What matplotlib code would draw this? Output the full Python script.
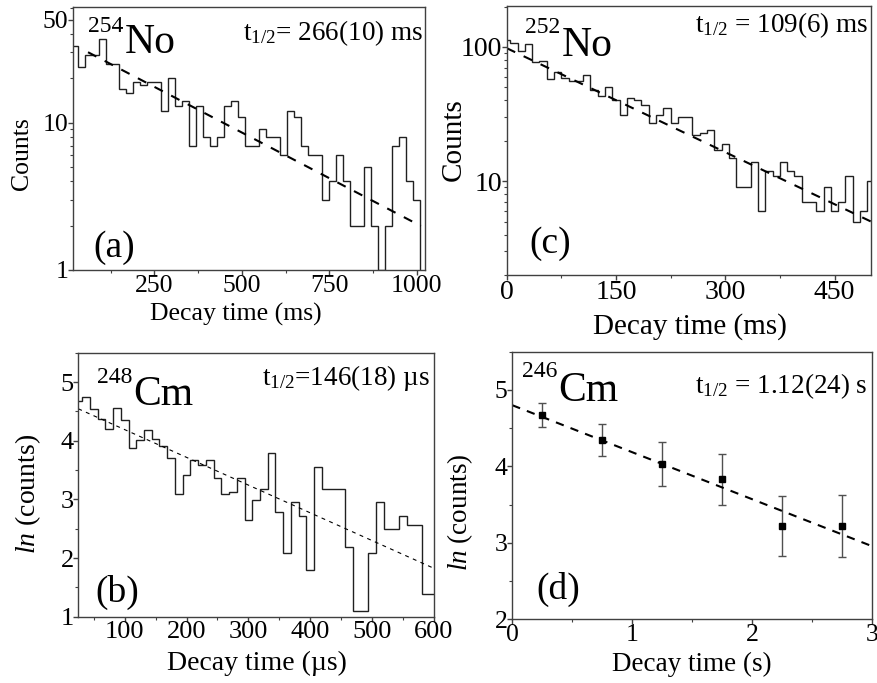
import numpy as np
import matplotlib
matplotlib.use("Agg")
import matplotlib.pyplot as plt
from matplotlib.ticker import (AutoMinorLocator, FixedLocator, FixedFormatter,
                               NullFormatter, MultipleLocator, LogLocator)

plt.rcParams["font.family"] = ["Liberation Serif", "DejaVu Serif"]
plt.rcParams["mathtext.fontset"] = "custom"
plt.rcParams["mathtext.rm"] = "Liberation Serif"
plt.rcParams["mathtext.it"] = "Liberation Serif:italic"

FRAME = "#404040"
HIST = "#202020"

# (a) 254No, 20 ms bins starting at 10 ms
no254_bin_start = 10
no254_bin_width = 20
no254_counts = [33, 24, 29, 29, 37, 25, 25, 17, 16, 19,
                18, 19, 19, 12, 20, 13, 14, 7, 13, 8,
                7, 8, 13, 14, 11, 7, 7, 9, 8, 8,
                6, 12, 11, 7, 6, 6, 3, 4, 6, 4,
                2, 2, 5, 2, 1, 2, 7, 8, 4, 3]
no254_fit_amp = 35.7      # counts at t = 0
no254_fit_half = 243.0    # ms (as drawn)
no254_fit_range = (60, 1012)

# (c) 252No, 10 ms bins centred on multiples of 10 ms
no252_bin_start = -5
no252_bin_width = 10
no252_counts = [113, 107, 94, 106, 77, 79, 58, 65, 59, 56,
                56, 62, 48, 43, 50, 40, 31, 42, 40, 37,
                27, 31, 35, 27, 30, 30, 22, 23, 24, 17,
                19, 15, 9, 9, 14, 6, 12, 11, 14, 12,
                11, 7, 7, 6, 9, 6, 7, 11, 5, 6, 10]
no252_fit_amp = 98.0
no252_fit_half = 116.5
no252_fit_range = (0, 500)

# (b) 248Cm, ln(counts), 12.5 us bins
cm248_bin_start = 18.75
cm248_bin_width = 12.5
cm248_lncounts = [4.67, 4.75, 4.54, 4.37, 4.20, 4.56, 4.36, 3.88, 4.02, 4.19,
                  4.03, 3.91, 3.70, 3.09, 3.41, 3.67, 3.59, 3.67, 3.36, 3.09,
                  3.13, 3.36, 2.64, 2.99, 3.17, 3.79, 2.78, 2.08, 2.95, 2.71,
                  1.80, 3.56, 3.17, 3.17, 3.17, 2.19, 1.10, 1.10, 2.08, 2.95,
                  2.49, 2.49, 2.71, 2.56, 2.56, 1.39, 1.39]
cm248_fit_b = 4.662       # ln(counts) at t = 0
cm248_fit_slope = -0.00473
cm248_fit_range = (25, 600)

# (d) 246Cm, points with errors
cm246_t = [0.25, 0.75, 1.25, 1.75, 2.25, 2.75]
cm246_ln = [4.67, 4.35, 4.03, 3.83, 3.22, 3.22]
cm246_err = [0.16, 0.21, 0.29, 0.33, 0.39, 0.41]
cm246_fit_b = 4.80
cm246_fit_slope = -0.615
cm246_fit_range = (0, 3)

W, H = 877, 683
SYM_FS, MASS_FS, HL_FS, TAG_FS = 30, 17, 19.5, 27


def px_rect(left, top, right, bottom):
    return [left / W, 1 - bottom / H, (right - left) / W, (bottom - top) / H]


def style_axes(ax, tick_fs):
    for s in ax.spines.values():
        s.set_color(FRAME)
        s.set_linewidth(1.0)
    ax.tick_params(which="both", direction="out", top=False, right=False,
                   colors=FRAME, labelcolor="black", labelsize=tick_fs, pad=0)
    ax.tick_params(which="major", length=3.3, width=1.0)
    ax.tick_params(which="minor", length=2.0, width=0.8)


def annotate(ax, mass, sym, sym_xy, mass_xy, hl_text, hl_xy, tag, tag_xy):
    ax.text(*sym_xy, sym, transform=ax.transAxes, fontsize=SYM_FS, va="baseline", ha="left")
    ax.text(*mass_xy, mass, transform=ax.transAxes, fontsize=MASS_FS, va="baseline", ha="right")
    ax.text(*hl_xy, hl_text, transform=ax.transAxes, fontsize=HL_FS, va="baseline", ha="right")
    ax.text(*tag_xy, tag, transform=ax.transAxes, fontsize=TAG_FS, va="baseline", ha="left")


def labels(ax, xlabel, xl_xy, ylabel, yl_xy, fs):
    ax.set_xlabel(xlabel, fontsize=fs)
    ax.set_ylabel(ylabel, fontsize=fs)
    ax.xaxis.set_label_coords(*xl_xy)
    ax.yaxis.set_label_coords(*yl_xy)


fig = plt.figure(figsize=(W / 100, H / 100), dpi=100)

# ---- (a)
ax = fig.add_axes(px_rect(73, 7, 425, 270))
style_axes(ax, 18.5)
edges = no254_bin_start + no254_bin_width * np.arange(len(no254_counts) + 1)
ax.stairs(no254_counts, edges, baseline=1, color=HIST, lw=1.0)
t = np.linspace(*no254_fit_range, 200)
ax.plot(t, no254_fit_amp * np.exp(-np.log(2) * t / no254_fit_half),
        color="black", lw=1.5, ls=(0, (4.5, 4.5)))
ax.set_yscale("log")
ax.set_xlim(17, 1024)
ax.set_ylim(1, 61)
ax.yaxis.set_major_locator(FixedLocator([1, 10, 50]))
ax.yaxis.set_major_formatter(FixedFormatter(["1", "10", "50"]))
ax.yaxis.set_minor_locator(LogLocator(base=10, subs=np.arange(2, 10)))
ax.yaxis.set_minor_formatter(NullFormatter())
ax.xaxis.set_major_locator(FixedLocator([250, 500, 750, 1000]))
ax.xaxis.set_minor_locator(FixedLocator([125, 375, 625, 875]))
labels(ax, "Decay time (ms)", (0.463, -0.127), "Counts", (-0.114, 0.443), 18.5)
annotate(ax, "254", "No", (0.148, 0.824), (0.143, 0.906),
         r"t$_{1/2}$= 266(10) ms", (0.995, 0.875), "(a)", (0.058, 0.051))

# ---- (c)
ax = fig.add_axes(px_rect(506.7, 6, 871, 275))
style_axes(ax, 20)
edges = no252_bin_start + no252_bin_width * np.arange(len(no252_counts) + 1)
ax.stairs(no252_counts, edges, baseline=None, color=HIST, lw=1.0)
t = np.linspace(*no252_fit_range, 200)
ax.plot(t, no252_fit_amp * np.exp(-np.log(2) * t / no252_fit_half),
        color="black", lw=1.5, ls=(0, (4.5, 4.5)))
ax.set_yscale("log")
ax.set_xlim(0, 500)
ax.set_ylim(2, 202)
ax.yaxis.set_major_locator(FixedLocator([10, 100]))
ax.yaxis.set_major_formatter(FixedFormatter(["10", "100"]))
ax.yaxis.set_minor_locator(LogLocator(base=10, subs=np.arange(2, 10)))
ax.yaxis.set_minor_formatter(NullFormatter())
ax.xaxis.set_major_locator(MultipleLocator(150))
ax.xaxis.set_minor_locator(AutoMinorLocator(2))
labels(ax, "Decay time (ms)", (0.503, -0.142), "Counts", (-0.109, 0.504), 21)
annotate(ax, "252", "No", (0.151, 0.814), (0.146, 0.899),
         r"t$_{1/2}$ = 109(6) ms", (0.993, 0.904), "(c)", (0.062, 0.081))

# ---- (b)
ax = fig.add_axes(px_rect(78.3, 352.7, 434, 616.7))
style_axes(ax, 19)
edges = cm248_bin_start + cm248_bin_width * np.arange(len(cm248_lncounts) + 1)
ax.stairs(cm248_lncounts, edges, baseline=None, color=HIST, lw=1.0)
t = np.linspace(*cm248_fit_range, 200)
ax.plot(t, cm248_fit_b + cm248_fit_slope * t, color="black", lw=0.8, ls=(0, (3.5, 4)))
ax.set_xlim(25, 600)
ax.set_ylim(1, 5.5)
ax.xaxis.set_major_locator(MultipleLocator(100))
ax.xaxis.set_minor_locator(AutoMinorLocator(2))
ax.yaxis.set_major_locator(MultipleLocator(1))
ax.yaxis.set_minor_locator(AutoMinorLocator(2))
labels(ax, "Decay time (µs)", (0.502, -0.128), r"$\mathit{ln}$ (counts)", (-0.098, 0.466), 20)
annotate(ax, "248", "Cm", (0.155, 0.802), (0.152, 0.884),
         r"t$_{1/2}$=146(18) µs", (0.989, 0.878), "(b)", (0.047, 0.057))

# ---- (d)
ax = fig.add_axes(px_rect(512.3, 351.7, 872.3, 619.3))
style_axes(ax, 18.5)
ax.errorbar(cm246_t, cm246_ln, yerr=cm246_err, fmt="s", color="black", ms=4.5,
            ecolor="#505050", elinewidth=1.0, capsize=3, capthick=1.0)
t = np.linspace(*cm246_fit_range, 200)
ax.plot(t, cm246_fit_b + cm246_fit_slope * t, color="black", lw=1.5, ls=(0, (4, 3.5)))
ax.set_xlim(0, 3)
ax.set_ylim(2, 5.5)
ax.xaxis.set_major_locator(MultipleLocator(1))
ax.xaxis.set_minor_locator(AutoMinorLocator(2))
ax.yaxis.set_major_locator(MultipleLocator(1))
ax.yaxis.set_minor_locator(AutoMinorLocator(2))
labels(ax, "Decay time (s)", (0.498, -0.122), r"$\mathit{ln}$ (counts)", (-0.104, 0.40), 19.5)
annotate(ax, "246", "Cm", (0.128, 0.817), (0.125, 0.907),
         r"t$_{1/2}$ = 1.12(24) s", (0.986, 0.847), "(d)", (0.068, 0.075))

fig.savefig("out.png", dpi=100)
